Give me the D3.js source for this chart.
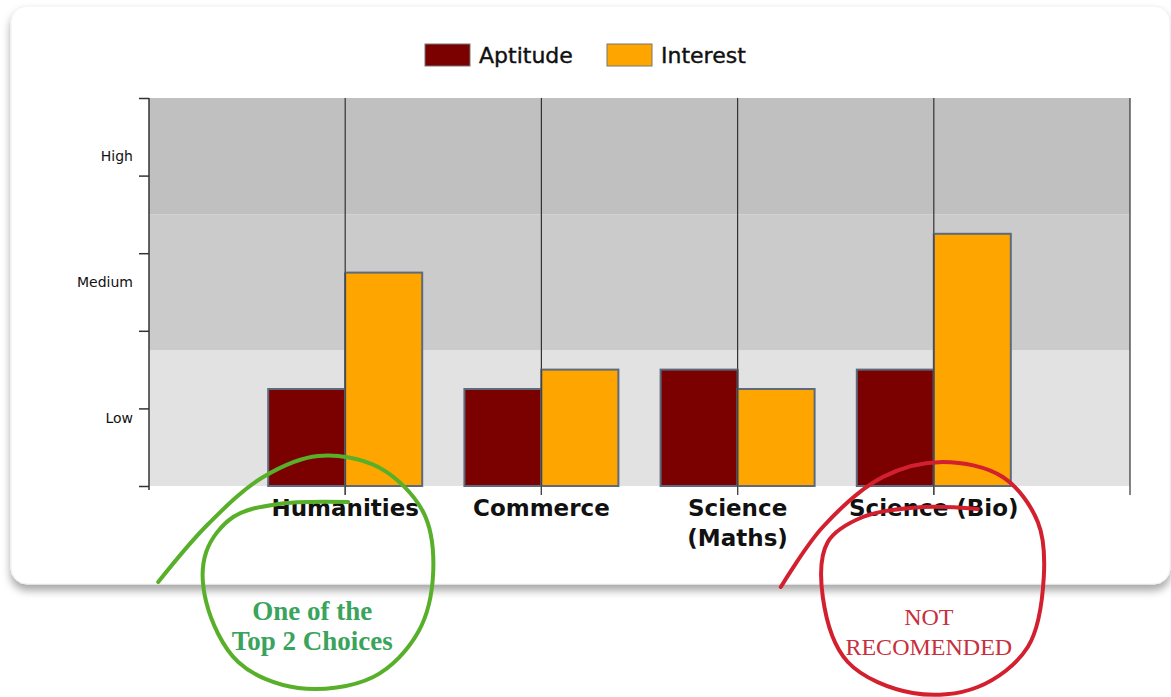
<!DOCTYPE html>
<html>
<head>
<meta charset="utf-8">
<script src="https://cdn.jsdelivr.net/npm/d3@7"></script>
<style>
  body { margin: 0; background: #fff; }
  svg { display: block; font-family: "DejaVu Sans", Verdana, sans-serif; }
</style>
</head>
<body>
<svg id="chart" width="1171" height="697"></svg>
<script>
// chart data
const categories = ["Humanities", "Commerce", "Science\n(Maths)", "Science (Bio)"];
const seriesNames = ["Aptitude", "Interest"];
const aptitude = [25, 25, 30, 30];
const interest = [55, 30, 25, 65];
const levelNames = ["Low", "Medium", "High"];
const levelBounds = [0, 35, 70, 100];
const yTicks = [0, 20, 40, 60, 80, 100];

const colors = { Aptitude: "#7b0000", Interest: "#ffa500" };
const bandColors = ["#e3e2e3", "#cbcbcb", "#c0c0c0"];

const svg = d3.select("#chart");
const margin = { left: 149, right: 41, top: 98, bottom: 211 };
const width = +svg.attr("width");
const height = +svg.attr("height");

// card with shadow
const defs = svg.append("defs");
const shadow = defs.append("filter").attr("id", "shadow")
  .attr("x", "-5%").attr("y", "-5%").attr("width", "110%").attr("height", "115%");
shadow.append("feDropShadow")
  .attr("dx", 0).attr("dy", 6).attr("stdDeviation", 4)
  .attr("flood-color", "#000").attr("flood-opacity", 0.35);

svg.append("rect")
  .attr("x", 11).attr("y", 6)
  .attr("width", 1170 - 11).attr("height", 584 - 6)
  .attr("rx", 16)
  .attr("fill", "#fff")
  .attr("stroke", "#f0f0f0")
  .attr("filter", "url(#shadow)");

// scales
const x = d3.scalePoint()
  .domain(categories)
  .range([margin.left, width - margin.right])
  .padding(1);
const barW = 77;
const y = d3.scaleLinear()
  .domain([0, 100])
  .range([height - margin.bottom, margin.top]);

const chart = svg.append("g");

// background level bands
chart.selectAll(".band")
  .data(levelNames)
  .join("rect")
  .attr("x", margin.left)
  .attr("width", width - margin.right - margin.left)
  .attr("y", (d, i) => y(levelBounds[i + 1]))
  .attr("height", (d, i) => y(levelBounds[i]) - y(levelBounds[i + 1]))
  .attr("fill", (d, i) => bandColors[i]);

// vertical gridlines at category centres and right edge
const gridX = categories.map((c) => x(c)).concat([width - margin.right]);
chart.selectAll(".grid")
  .data(gridX)
  .join("line")
  .attr("x1", (d) => d).attr("x2", (d) => d)
  .attr("y1", y(100)).attr("y2", y(0) + 9)
  .attr("stroke", "#333")
  .attr("stroke-width", 1.2);

// bars
const rows = categories.map((c, i) => ({ c, Aptitude: aptitude[i], Interest: interest[i] }));
seriesNames.forEach((s, si) => {
  chart.selectAll(".bar-" + s)
    .data(rows)
    .join("rect")
    .attr("x", (d) => x(d.c) - barW + si * barW)
    .attr("width", barW)
    .attr("y", (d) => y(d[s]))
    .attr("height", (d) => y(0) - y(d[s]))
    .attr("fill", colors[s])
    .attr("stroke", "#5c6a7e")
    .attr("stroke-width", 2);
});

// gridline again over the bars where they meet
chart.selectAll(".grid2")
  .data(categories)
  .join("line")
  .attr("x1", (d) => x(d)).attr("x2", (d) => x(d))
  .attr("y1", (d, i) => y(Math.max(aptitude[i], interest[i])))
  .attr("y2", y(0) + 9)
  .attr("stroke", "#444")
  .attr("stroke-width", 1.2);

// y axis
const yAxis = chart.append("g")
  .attr("transform", `translate(${margin.left},0)`)
  .call(d3.axisLeft(y).tickValues(yTicks).tickSize(10).tickFormat(""));
yAxis.select(".domain").attr("stroke", "#333").attr("stroke-width", 1.5)
  .attr("d", `M0,${y(100)}V${y(0) + 4}`);
yAxis.selectAll(".tick line").attr("stroke", "#333").attr("stroke-width", 1.5);

// level labels
chart.selectAll(".level")
  .data(levelNames)
  .join("text")
  .attr("x", margin.left - 16)
  .attr("y", (d, i) => y((levelBounds[i] + levelBounds[i + 1]) / 2))
  .attr("dy", "0.35em")
  .attr("text-anchor", "end")
  .attr("font-size", 14)
  .attr("fill", "#111")
  .text((d) => d);

// category labels
chart.selectAll(".cat")
  .data(categories)
  .join("text")
  .attr("x", (d) => x(d))
  .attr("y", 516)
  .attr("text-anchor", "middle")
  .attr("font-size", 23)
  .attr("font-weight", "bold")
  .attr("fill", "#111")
  .each(function (d) {
    d.split("\n").forEach((line, i) => {
      d3.select(this).append("tspan")
        .attr("x", x(d)).attr("dy", i === 0 ? 0 : 30).text(line);
    });
  });

// legend
const legend = svg.append("g");
const legendX = [425, 607];
seriesNames.forEach((s, i) => {
  legend.append("rect")
    .attr("x", legendX[i]).attr("y", 44)
    .attr("width", 45).attr("height", 22)
    .attr("fill", colors[s])
    .attr("stroke", "#777").attr("stroke-width", 1);
  legend.append("text")
    .attr("x", legendX[i] + 54).attr("y", 63)
    .attr("font-size", 22)
    .attr("fill", "#111")
    .attr("stroke", "#111")
    .attr("stroke-width", 0.4)
    .text(s);
});

// hand-drawn annotation loops, placed relative to their category
const loopLine = d3.line().curve(d3.curveCatmullRom.alpha(0.5));
const greenLoop = [[-160, 10], [-110, -48], [-55, -95], [0, -116], [60, -105], [105, -60],
  [115, 0], [100, 60], [55, 105], [-20, 116], [-80, 90], [-112, 30], [-112, -20],
  [-85, -55], [-40, -68], [30, -70]];
const redLoop = [[-152, 10], [-110, -50], [-50, -100], [10, -115], [70, -100], [105, -55],
  [111, 0], [95, 70], [45, 110], [-20, 116], [-85, 85], [-110, 20], [-105, -35],
  [-70, -60], [-10, -70], [45, -68]];

function drawNote(cat, pts, cx, cy, color, textStyle, lines) {
  const ox = x(cat) + cx;
  svg.append("path")
    .attr("d", loopLine(pts.map((p) => [ox + p[0], cy + p[1]])))
    .attr("fill", "none")
    .attr("stroke", color)
    .attr("stroke-width", 4)
    .attr("stroke-linecap", "round");
  lines.forEach((t, i) => {
    svg.append("text")
      .attr("x", ox + textStyle.dx)
      .attr("y", cy + textStyle.y0 + i * 30)
      .attr("text-anchor", "middle")
      .attr("font-family", "'Liberation Serif', 'DejaVu Serif', serif")
      .attr("font-size", textStyle.size)
      .attr("font-weight", textStyle.bold ? "bold" : "normal")
      .attr("fill", textStyle.fill)
      .text(t);
  });
}
drawNote("Humanities", greenLoop, -27, 572, "#58b02a",
  { fill: "#3aa35c", bold: true, size: 27, dx: -6, y0: 48 }, ["One of the", "Top 2 Choices"]);
drawNote("Science (Bio)", redLoop, -1, 577, "#d3202f",
  { fill: "#c7303c", bold: false, size: 24, dx: -4, y0: 48 }, ["NOT", "RECOMENDED"]);
</script>
</body>
</html>
